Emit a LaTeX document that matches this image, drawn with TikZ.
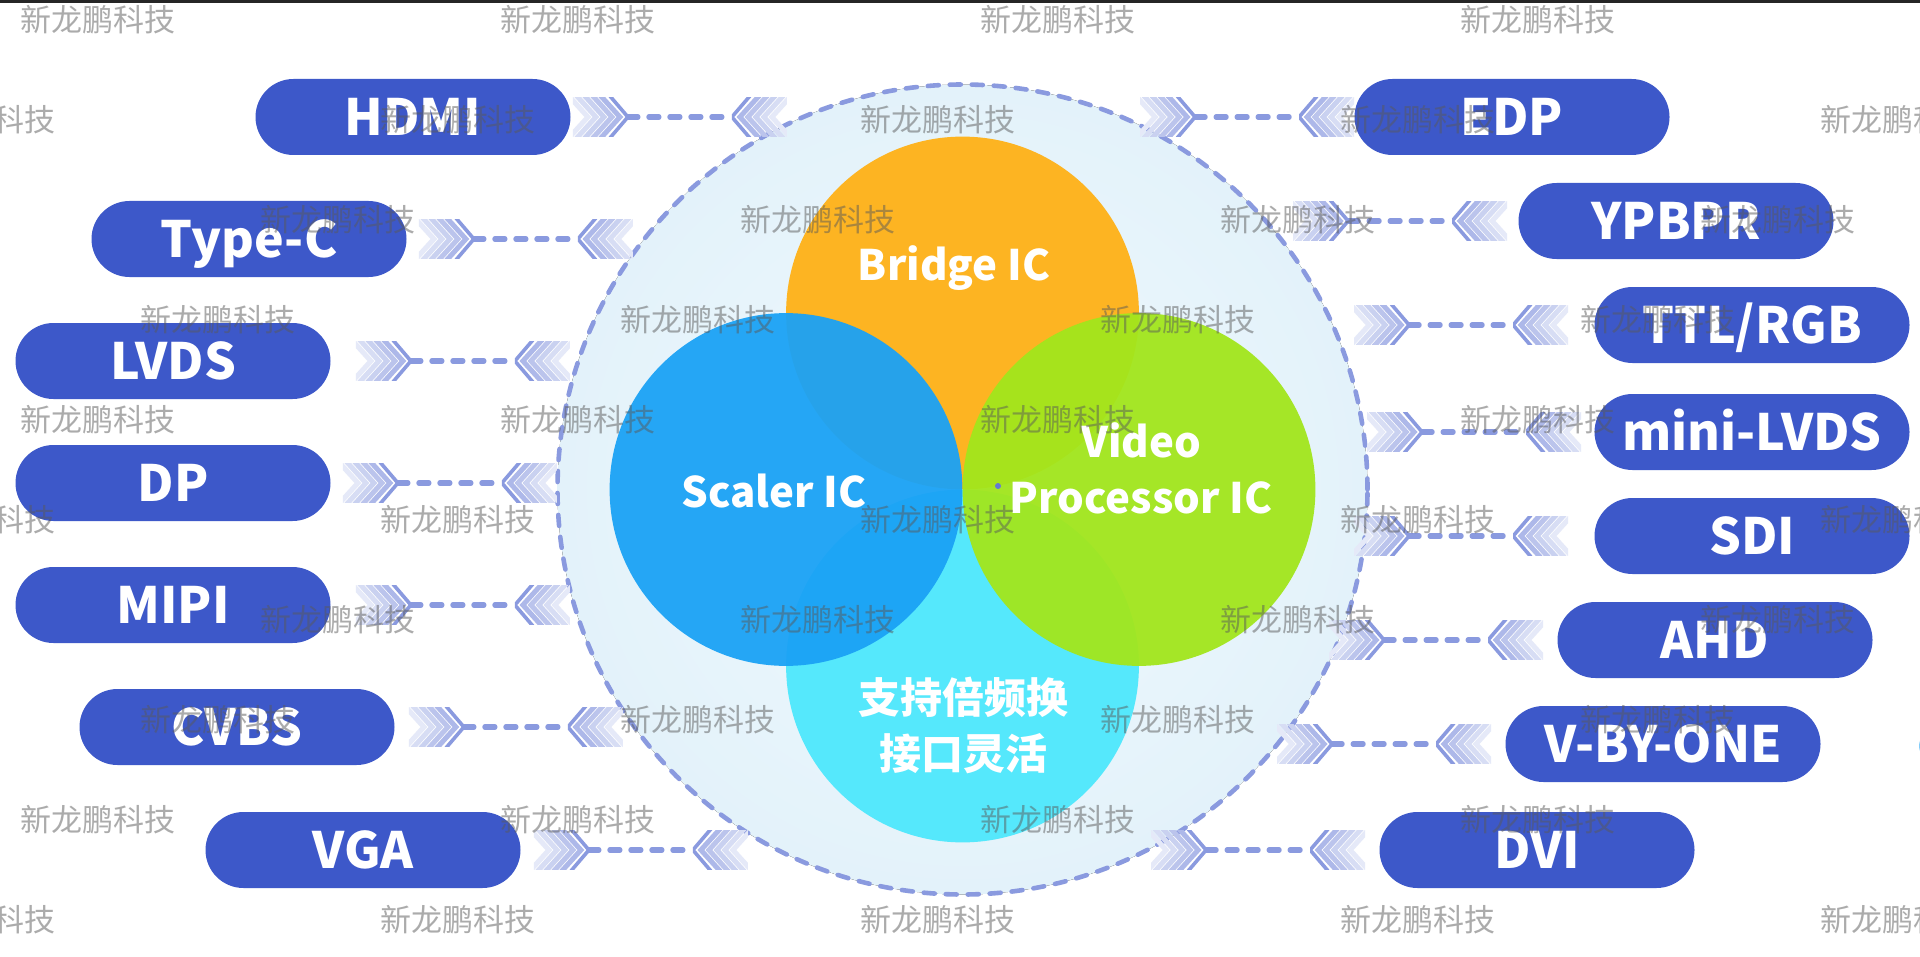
\documentclass[tikz,border=0pt]{standalone}
\usepackage{fontspec}
\newfontfamily\cjk{Noto Sans CJK SC}
\definecolor{pill}{HTML}{3D58C9}
\definecolor{lav}{HTML}{8A9ADF}
\definecolor{orng}{HTML}{FDB422}
\definecolor{bleu}{HTML}{1BA2F5}
\definecolor{vert}{HTML}{A2E61C}
\definecolor{ciel}{HTML}{55E8FC}
\definecolor{halo}{HTML}{F0F9FD}
\definecolor{bord}{HTML}{E3F2FA}
\tikzset{
  port/.style={fill=pill, text=white, rounded corners=19pt, minimum width=157.5pt, minimum height=38pt,
    inner sep=0pt, text height=18.3pt, text depth=0pt, font=\cjk\bfseries\fontsize{25}{25}\selectfont},
  chip/.style={text=white, inner sep=0pt, align=center, font=\cjk\bfseries\fontsize{21}{28}\selectfont},
  link/.style={lav, line width=2.6pt, dash pattern=on 5pt off 5.5pt, line cap=round},
  ring/.style={lav, line width=2.3pt, dash pattern=on 5.5pt off 5.5pt, line cap=round},
  wm/.style={text=black!65, opacity=0.5, inner sep=0pt, font=\cjk\fontsize{15.5}{15.5}\selectfont},
  chev/.pic={
    \begin{scope}
      \clip (0,-19.5) rectangle (55,19.5);
      \foreach \t/\c in {15/22,23/34,31/46,39/58,47/70}
        \draw[lav!\c, line width=2.5pt] (\t-20,-22) -- (\t,0) -- (\t-20,22);
      \draw[lav, line width=1.8pt] (37,-21) -- (55,0) -- (37,21);
    \end{scope}
  }
}
\begin{document}
\begin{tikzpicture}[x=0.5pt,y=-0.5pt]
  \pgfmathsetmacro{\lgcon}{214}
  \pgfmathsetmacro{\cx}{962.5}
  \pgfmathsetmacro{\cy}{489.5}
  \pgfmathsetmacro{\ec}{176.5}
  \useasboundingbox (0,0) rectangle (1920,957);
  \fill[white] (0,0) rectangle (1920,957);
  \fill[inner color=halo, outer color=bord] (\cx,\cy) circle (202.5pt);
  \draw[ring] (\cx,\cy) circle (202.5pt);
  \fill[orng] (\cx,\cy-\ec) circle (88.2pt);
  \fill[ciel] (\cx,\cy+\ec) circle (88.2pt);
  \fill[bleu, opacity=0.95] (\cx-\ec,\cy) circle (88.2pt);
  \fill[vert, opacity=0.95] (\cx+\ec,\cy) circle (88.2pt);
  \fill[pill!80] (998,486) circle (1.5pt);
  \node[chip, anchor=base] (bridge) at (954,280) {Bridge IC};
  \node[chip, anchor=base] (scaler) at (774,507) {Scaler IC};
  \node[chip] (video) at (1141,468) {Video\\Processor IC};
  \node[chip] (flex) at (963,725) {支持倍频换\\接口灵活};
  \foreach \nm/\x/\y/\txt/\gap in {hdmi/413/117/HDMI/2, typec/249/239/Type-C/12, lvds/173/361/LVDS/25,
      dp/173/483/DP/12, mipi/173/605/MIPI/25, cvbs/237/727/CVBS/14, vga/363/850/VGA/13} {
    \node[port] (\nm) at (\x,\y) {\txt};
    \path (\nm.east) ++(\gap,0) coordinate (\nm-a) ++(\lgcon,0) coordinate (\nm-b);
    \pic at (\nm-a) {chev};
    \pic[xscale=-1] at (\nm-b) {chev};
    \draw[link] ([xshift=27.5pt]\nm-a) -- ([xshift=-27.5pt]\nm-b);
  }
  \foreach \nm/\x/\y/\txt/\gap in {edp/1512/117/EDP/0, ypbpr/1676/221/YPBPR/11, ttl/1752/325/{TTL/RGB}/26,
      minilvds/1752/432/mini-LVDS/13, sdi/1752/536/SDI/26, ahd/1715/640/AHD/14,
      vbyone/1663/744/V-BY-ONE/14, dvi/1537/850/DVI/14} {
    \node[port] (\nm) at (\x,\y) {\txt};
    \path (\nm.west) ++(-\gap,0) coordinate (\nm-b) ++(-\lgcon,0) coordinate (\nm-a);
    \pic at (\nm-a) {chev};
    \pic[xscale=-1] at (\nm-b) {chev};
    \draw[link] ([xshift=27.5pt]\nm-a) -- ([xshift=-27.5pt]\nm-b);
  }
  \fill[bleu!55] (1933,746) circle (7pt);
  \foreach \k in {0,...,9} {
    \pgfmathsetmacro{\xo}{98-120*mod(\k,4)}
    \foreach \j in {0,...,4}
      \node[wm] (wm\k\j) at (\xo+480*\j,19.5+100*\k) {新龙鹏科技};
  }
  \fill[black!85] (0,0) rectangle (1920,3);
\end{tikzpicture}
\end{document}
